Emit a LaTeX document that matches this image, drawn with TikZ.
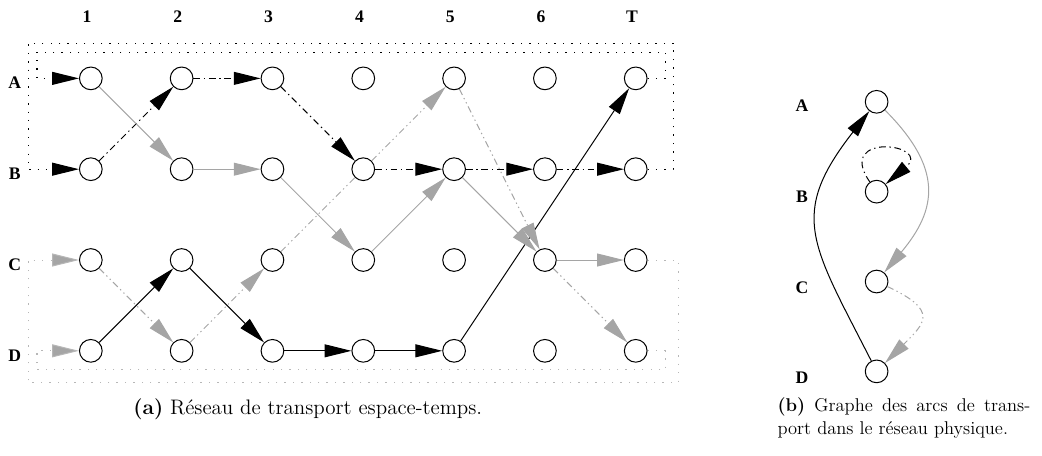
\documentclass[tikz,border=0pt]{standalone}
\usepackage{fontspec}
\newfontfamily\etiqfont{Liberation Serif}
\usetikzlibrary{arrows.meta}
\definecolor{gris}{RGB}{165,165,165}

\begin{document}
\begin{tikzpicture}[>={Triangle[length=5.6mm,width=2.7mm]}]
\tikzset{sommet/.style={draw, circle, fill=white, inner sep=0pt, minimum size=0.475cm, line width=0.6pt}}
\tikzset{etiq/.style={font=\etiqfont\bfseries\fontsize{10.5}{12}\selectfont}}
\tikzset{legende/.style={font=\fontsize{12.5}{14}\selectfont}}
\tikzset{arcnoir/.style={line width=0.6pt}}
\tikzset{arcgris/.style={line width=0.6pt, draw=gris}}
\tikzset{tiretnoir/.style={line width=0.6pt, dash pattern=on 4pt off 2.2pt on 0.8pt off 2.2pt}}
\tikzset{tiretgris/.style={line width=0.6pt, draw=gris, dash pattern=on 4pt off 2pt on 0.8pt off 2pt on 0.8pt off 2pt}}
\tikzset{pointnoir/.style={line width=0.6pt, dash pattern=on 0.8pt off 4.2pt}}
\tikzset{pointgris/.style={line width=0.6pt, draw=gris!80, dash pattern=on 0.8pt off 4.2pt}}
\useasboundingbox (0,0) rectangle (21.80,9.54);
% reseau espace-temps
\node[etiq] (t1) at (1.82,9.19) {1};
\node[etiq] (t2) at (3.72,9.19) {2};
\node[etiq] (t3) at (5.62,9.19) {3};
\node[etiq] (t4) at (7.52,9.19) {4};
\node[etiq] (t5) at (9.42,9.19) {5};
\node[etiq] (t6) at (11.32,9.19) {6};
\node[etiq] (tT) at (13.22,9.19) {T};
\node[etiq] (lA) at (0.31,7.8) {A};
\node[etiq] (lB) at (0.31,5.9) {B};
\node[etiq] (lC) at (0.31,4.0) {C};
\node[etiq] (lD) at (0.31,2.1) {D};
\node[sommet] (A1) at (1.9,7.9) {};
\node[sommet] (A2) at (3.8,7.9) {};
\node[sommet] (A3) at (5.7,7.9) {};
\node[sommet] (A4) at (7.6,7.9) {};
\node[sommet] (A5) at (9.5,7.9) {};
\node[sommet] (A6) at (11.4,7.9) {};
\node[sommet] (AT) at (13.3,7.9) {};
\node[sommet] (B1) at (1.9,6.0) {};
\node[sommet] (B2) at (3.8,6.0) {};
\node[sommet] (B3) at (5.7,6.0) {};
\node[sommet] (B4) at (7.6,6.0) {};
\node[sommet] (B5) at (9.5,6.0) {};
\node[sommet] (B6) at (11.4,6.0) {};
\node[sommet] (BT) at (13.3,6.0) {};
\node[sommet] (C1) at (1.9,4.1) {};
\node[sommet] (C2) at (3.8,4.1) {};
\node[sommet] (C3) at (5.7,4.1) {};
\node[sommet] (C4) at (7.6,4.1) {};
\node[sommet] (C5) at (9.5,4.1) {};
\node[sommet] (C6) at (11.4,4.1) {};
\node[sommet] (CT) at (13.3,4.1) {};
\node[sommet] (D1) at (1.9,2.2) {};
\node[sommet] (D2) at (3.8,2.2) {};
\node[sommet] (D3) at (5.7,2.2) {};
\node[sommet] (D4) at (7.6,2.2) {};
\node[sommet] (D5) at (9.5,2.2) {};
\node[sommet] (D6) at (11.4,2.2) {};
\node[sommet] (DT) at (13.3,2.2) {};
% retours cycliques
\draw[pointnoir,->] (AT) -| (13.92,8.45) -| (0.774,7.9) -- (A1);
\draw[pointnoir,->] (BT) -| (14.08,8.64) -| (0.586,6.0) -- (B1);
\draw[pointgris,-{Triangle[length=5.6mm,width=2.7mm,fill=gris]}] (CT) -| (14.19,1.53) -| (0.586,4.1) -- (C1);
\draw[pointgris,-{Triangle[length=5.6mm,width=2.7mm,fill=gris]}] (DT) -| (13.92,1.80) -| (0.774,2.2) -- (D1);
% arcs
\draw[arcnoir,->] (D1) -- (C2);
\draw[arcnoir,->] (C2) -- (D3);
\draw[arcnoir,->] (D3) -- (D4);
\draw[arcnoir,->] (D4) -- (D5);
\draw[arcnoir,->] (D5) -- (AT);
\draw[tiretnoir,->] (B1) -- (A2);
\draw[tiretnoir,->] (A2) -- (A3);
\draw[tiretnoir,->] (A3) -- (B4);
\draw[tiretnoir,->] (B4) -- (B5);
\draw[tiretnoir,->] (B5) -- (B6);
\draw[tiretnoir,->] (B6) -- (BT);
\draw[arcgris,->] (A1) -- (B2);
\draw[arcgris,->] (B2) -- (B3);
\draw[arcgris,->] (B3) -- (C4);
\draw[arcgris,->] (C4) -- (B5);
\draw[arcgris,->] (B5) -- (C6);
\draw[arcgris,->] (C6) -- (CT);
\draw[tiretgris,->] (C1) -- (D2);
\draw[tiretgris,->] (D2) -- (C3);
\draw[tiretgris] (C3) -- (B4);
\draw[tiretgris,->] (B4) -- (A5);
\draw[tiretgris,->] (A5) -- (C6);
\draw[tiretgris,->] (C6) -- (DT);
\node[legende] (la) at (6.44,0.98) {\textbf{(a)} Réseau de transport espace-temps.};
% reseau physique
\node[etiq] (mA) at (16.78,7.32) {A};
\node[etiq] (mB) at (16.78,5.43) {B};
\node[etiq] (mC) at (16.78,3.53) {C};
\node[etiq] (mD) at (16.78,1.64) {D};
\node[sommet] (PA) at (18.34,7.41) {};
\node[sommet] (PB) at (18.34,5.53) {};
\node[sommet] (PC) at (18.34,3.65) {};
\node[sommet] (PD) at (18.34,1.77) {};
\draw[arcnoir,->] (PD) to[out=117,in=232,looseness=1.35] (PA);
\draw[arcgris,->] (PA) to[out=-45,in=50,looseness=1.3] (PC);
\draw[tiretnoir,->] (PB) to[out=125,in=40,looseness=8,min distance=1.3cm] (PB);
\draw[tiretgris,->] (PC) to[out=-25,in=45,looseness=1.9] (PD);
\node[legende, font=\fontsize{11}{13.7}\selectfont, anchor=north west, align=left, inner sep=0pt] (lb) at (16.26,1.22) {\makebox[5.29cm][s]{\textbf{(b)} Graphe des arcs de trans-}\\port dans le réseau physique.};
\end{tikzpicture}
\end{document}
